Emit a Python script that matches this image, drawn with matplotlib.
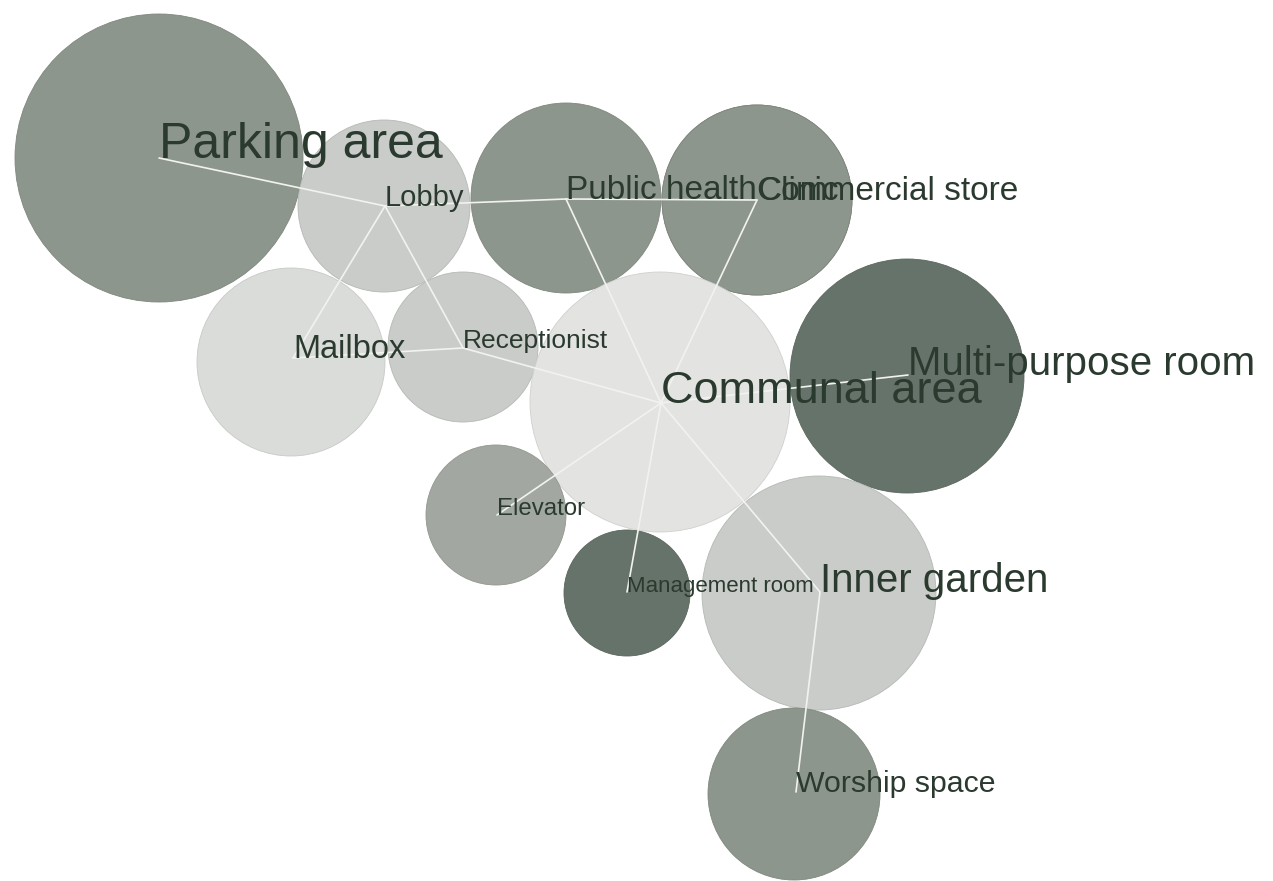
import matplotlib
matplotlib.use("Agg")
import matplotlib.pyplot as plt
from matplotlib.patches import Circle

# spaces of the bubble diagram
names = ["Parking area", "Lobby", "Public health", "Commercial store", "Clinic",
         "Mailbox", "Receptionist", "Communal area", "Multi-purpose room",
         "Elevator", "Management room", "Inner garden", "Worship space"]
# relative size (bubble radius) and shade level of every space
size = [144, 86, 95, 95, 95, 94, 75, 130, 117, 70, 63, 117, 86]
level = [4, 2, 4, 4, 4, 1, 2, 0, 5, 3, 5, 2, 4]
label_pt = [36, 21, 24, 24, 24, 23.5, 19, 32.5, 29, 17.3, 16, 29, 21.8]

# adjacency between spaces
links = [("Parking area", "Lobby"), ("Lobby", "Public health"),
         ("Public health", "Clinic"), ("Lobby", "Mailbox"),
         ("Lobby", "Receptionist"), ("Receptionist", "Mailbox"),
         ("Receptionist", "Communal area"), ("Public health", "Communal area"),
         ("Clinic", "Communal area"), ("Communal area", "Multi-purpose room"),
         ("Communal area", "Elevator"), ("Communal area", "Management room"),
         ("Communal area", "Inner garden"), ("Inner garden", "Worship space")]

# layout of the node centres (pixels, y down)
node_x = [159, 385, 566, 757, 757, 293, 463, 661, 908, 497, 627, 820, 796]
node_y = [158, 206, 199, 200, 200, 358, 348, 403, 375, 515, 592, 592, 792]
circ_x = [159, 384, 566, 757, 757, 291, 463, 660, 907, 496, 627, 819, 794]
circ_y = [158, 206, 198, 200, 200, 362, 347, 402, 376, 515, 593, 593, 794]

shades = ["#e3e4e2", "#dadcd9", "#c9ccc8", "#a2a7a1", "#8d968c", "#66736a"]
edges = ["#d0d1cf", "#c8cac7", "#b5b9b4", "#92978f", "#7f877e", "#5a665d"]

fig = plt.figure(figsize=(12.73, 8.81), dpi=100)
ax = fig.add_axes([0, 0, 1, 1])
ax.set_xlim(0, 1273)
ax.set_ylim(881, 0)
ax.set_aspect("equal")
ax.axis("off")

for i, n in enumerate(names):
    c = Circle((circ_x[i], circ_y[i]), size[i], facecolor=shades[level[i]],
               edgecolor=edges[level[i]], lw=0.6, zorder=1)
    ax.add_patch(c)

idx = {n: i for i, n in enumerate(names)}
for a, b in links:
    ia, ib = idx[a], idx[b]
    ax.plot([node_x[ia], node_x[ib]], [node_y[ia], node_y[ib]],
            color="#f2f3f1", lw=1.2, zorder=2, solid_capstyle="round")

for i, n in enumerate(names):
    ax.text(node_x[i], node_y[i], n, fontsize=label_pt[i], color="#2b3a2f",
            family=["Liberation Sans", "DejaVu Sans"], ha="left",
            va="baseline", zorder=3)

fig.savefig("out.png", dpi=100, facecolor="white")
